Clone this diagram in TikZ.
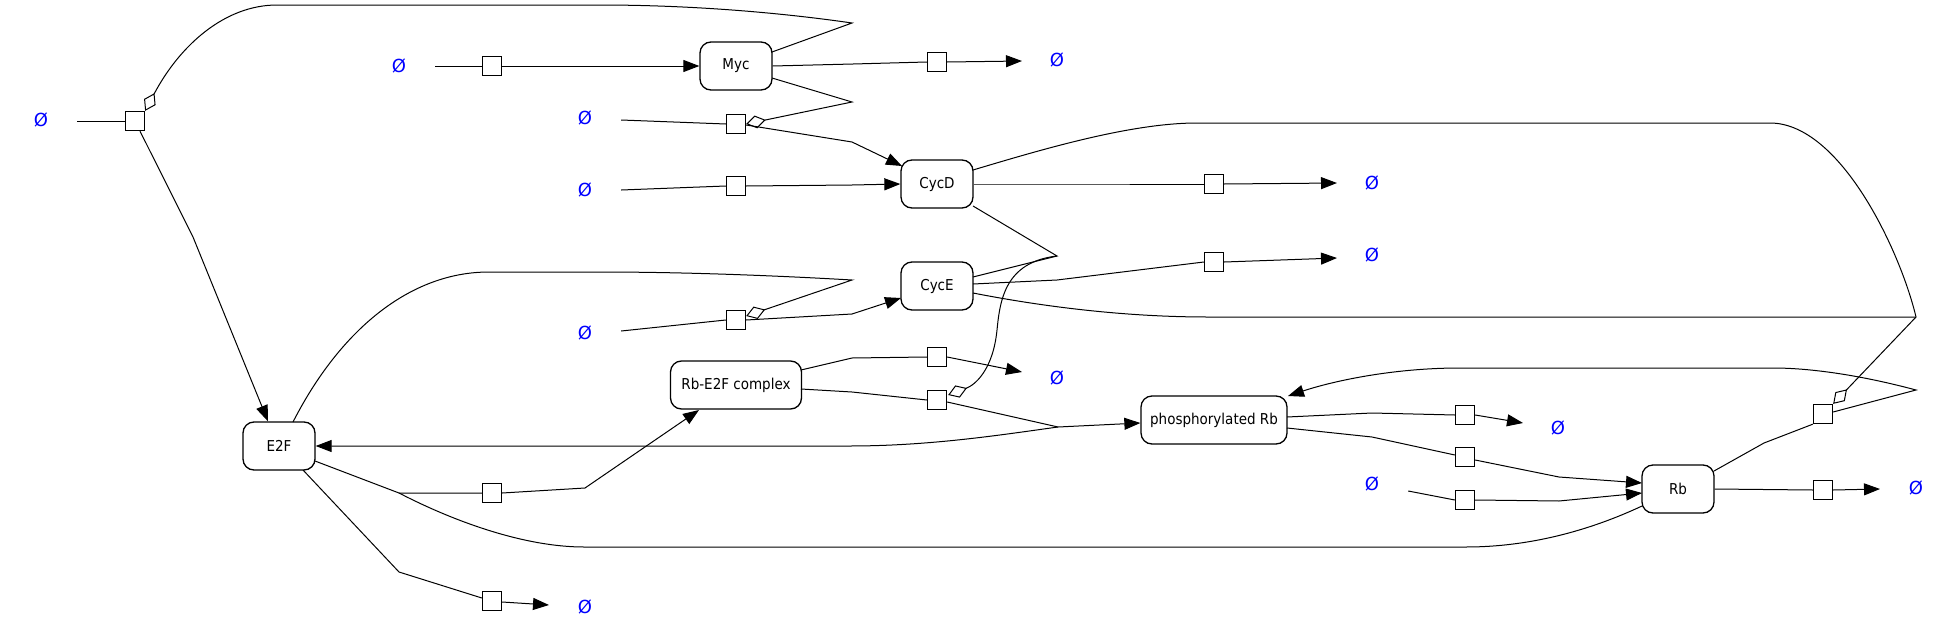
\documentclass[tikz,border=0pt]{standalone}
\usepackage{fontspec}
\newfontfamily\lblfont[FakeStretch=0.9]{DejaVu Sans}
\newfontfamily\sinkfont{DejaVu Sans}
\usetikzlibrary{arrows.meta,calc}
\begin{document}
\begin{tikzpicture}[x=1pt,y=-1pt,
  species/.style={draw, rounded corners=11pt, line width=1.3pt, minimum width=72pt, minimum height=48pt, inner sep=0pt, fill=white, font=\lblfont\fontsize{15}{18}\selectfont},
  rxn/.style={draw, line width=1.3pt, minimum size=19pt, inner sep=0pt, fill=white},
  sink/.style={text=blue, font=\sinkfont\fontsize{18}{21}\selectfont, minimum width=72pt, inner sep=0pt},
  con/.style={line width=1pt},
  prod/.style={con, -{Triangle[length=16pt,width=12pt]}},
  modi/.style={con, -{Diamond[open,length=20pt,width=13pt]}}]
\useasboundingbox (0,0) rectangle (1957,637);
% species
\node[species] (E2F) at (279,446) {E2F};
\node[species] (Myc) at (736,66) {Myc};
\node[species] (CycD) at (937,184) {CycD};
\node[species] (CycE) at (937,286) {CycE};
\node[species, minimum width=131pt] (RbE2F) at (736,385) {Rb-E2F complex};
\node[species, minimum width=146pt] (pRb) at (1214,420) {phosphorylated Rb};
\node[species] (Rb) at (1678,489) {Rb};
% sinks / sources
\node[sink] (e1) at (41,120) {Ø};
\node[sink] (e2) at (399,66) {Ø};
\node[sink] (e3) at (585,118) {Ø};
\node[sink] (e4) at (585,190) {Ø};
\node[sink] (e5) at (1057,60) {Ø};
\node[sink] (e6) at (1372,183) {Ø};
\node[sink] (e7) at (1372,255) {Ø};
\node[sink] (e8) at (585,333) {Ø};
\node[sink] (e9) at (585,607) {Ø};
\node[sink] (e10) at (1057,378) {Ø};
\node[sink] (e11) at (1558,428) {Ø};
\node[sink] (e12) at (1372,484) {Ø};
\node[sink] (e13) at (1916,488) {Ø};
% reactions
\node[rxn] (R1) at (135,121) {};
\node[rxn] (R2) at (492,66) {};
\node[rxn] (R3) at (937,62) {};
\node[rxn] (R4) at (736,124) {};
\node[rxn] (R5) at (736,186) {};
\node[rxn] (R6) at (1214,184) {};
\node[rxn] (R7) at (1214,262) {};
\node[rxn] (R8) at (736,320) {};
\node[rxn] (R9) at (937,357) {};
\node[rxn] (R10) at (937,400) {};
\node[rxn] (R11) at (492,493) {};
\node[rxn] (R12) at (492,601) {};
\node[rxn] (R13) at (1465,415) {};
\node[rxn] (R14) at (1465,457) {};
\node[rxn] (R15) at (1465,500) {};
\node[rxn] (R16) at (1823,414) {};
\node[rxn] (R17) at (1823,490) {};
% R1: source -> E2F, modifier Myc
\draw[con] ($(e1.east)+(0,1)$) -- (R1.west);
\draw[prod] ($(R1.south)+(5,0)$) -- (193,237) -- ($(E2F.north)+(-11,0)$);
\draw[modi] ($(Myc)+(36,-14)$) -- (852,23) .. controls (790,14) and (700,5) .. (599,5) -- (277,5) .. controls (225,5) and (180,45) .. (R1.north east);
% R2: source -> Myc
\draw[con] (e2.east) -- (R2.west);
\draw[prod] (R2.east) -- (Myc.west);
% R3: Myc degradation
\draw[con] (Myc.east) -- (853,64) -- (R3.west);
\draw[prod] (R3.east) -- ($(e5)+(-35,1)$);
% R4: source -> CycD, modifier Myc
\draw[con] ($(e3.east)+(0,2)$) -- (R4.west);
\draw[prod] ($(R4.east)+(0,1)$) -- (852,142) -- ($(CycD)+(-35,-18)$);
\draw[modi] ($(Myc)+(36,12)$) -- (852,102) -- (R4.east);
% R5: source -> CycD
\draw[con] (e4.east) -- (R5.west);
\draw[prod] (R5.east) -- (852,185) -- (CycD.west);
% R6: CycD degradation
\draw[con] (CycD.east) -- (1057,184) -- (R6.west);
\draw[prod] (R6.east) -- ($(e6)+(-35,0)$);
% R7: CycE degradation
\draw[con] ($(CycE)+(36,-2)$) -- (1057,280) -- (R7.west);
\draw[prod] (R7.east) -- ($(e7)+(-35,3)$);
% R8: source -> CycE, modifier E2F
\draw[con] ($(e8.east)+(0,-2)$) -- (R8.west);
\draw[prod] (R8.east) -- (852,314) -- ($(CycE)+(-36,12)$);
\draw[modi] ($(E2F)+(14,-24)$) .. controls (340,330) and (410,272) .. (489,272) -- (599,272) .. controls (700,272) and (800,277) .. (852,280) -- ($(R8.east)+(0,-4)$);
% R9: Rb-E2F degradation
\draw[con] ($(RbE2F)+(65,-15)$) -- (852,358) -- (R9.west);
\draw[prod] (R9.east) -- ($(e10)+(-35,-6)$);
% R10: Rb-E2F -> pRb + E2F, modifiers CycD, CycE
\draw[con] ($(RbE2F)+(65,4)$) -- (852,392) -- (R10.west);
\draw[prod] ($(R10.east)+(0,2)$) -- (1058,427) -- ($(pRb.west)+(0,3)$);
\draw[prod] (1058,427) .. controls (1000,435) and (930,446) .. (849,446) -- (E2F.east);
\draw[modi] ($(CycD)+(36,22)$) -- (1057,256) .. controls (1005,262) and (1000,300) .. (997,330) .. controls (993,370) and (975,385) .. ($(R10.east)+(1,-5)$);
\draw[con] ($(CycE)+(36,-9)$) -- (1057,256);
% R11: E2F + Rb -> Rb-E2F complex
\draw[con] ($(E2F)+(36,15)$) -- (399,493) -- (R11.west);
\draw[con] ($(Rb)+(-36,17)$) .. controls (1580,535) and (1520,547) .. (1466,547) -- (584,547) .. controls (525,547) and (455,522) .. (399,493);
\draw[prod] (R11.east) -- (585,488) -- ($(RbE2F)+(-37,25)$);
% R12: E2F degradation
\draw[con] ($(E2F)+(24,24)$) -- (399,572) -- ($(R12.west)+(0,-3)$);
\draw[prod] ($(R12.east)+(0,1)$) -- ($(e9)+(-36,-2)$);
% R13: pRb degradation
\draw[con] ($(pRb)+(73,-3)$) -- (1372,413) -- (R13.west);
\draw[prod] (R13.east) -- ($(e11)+(-35,-5)$);
% R14: pRb -> Rb
\draw[con] ($(pRb)+(73,8)$) -- (1372,437) -- ($(R14.west)+(0,-2)$);
\draw[prod] ($(R14.east)+(0,3)$) -- (1559,477) -- ($(Rb)+(-36,-6)$);
% R15: source -> Rb
\draw[con] ($(e12.east)+(0,7)$) -- (R15.west);
\draw[prod] (R15.east) -- (1559,501) -- ($(Rb)+(-36,4)$);
% R16: Rb -> pRb, modifiers CycD, CycE
\draw[con] ($(Rb)+(36,-18)$) -- (1764,443) -- (R16.south west);
\draw[prod] ($(R16.east)+(0,-2)$) -- (1916,390) .. controls (1860,375) and (1810,368) .. (1773,368) -- (1460,368) .. controls (1390,368) and (1330,382) .. ($(pRb)+(74,-24)$);
\draw[modi] ($(CycD)+(36,-14)$) .. controls (1040,150) and (1130,123) .. (1197,123) -- (1770,123) .. controls (1840,123) and (1900,250) .. (1916,317) -- (R16.north east);
\draw[con] ($(CycE)+(36,7)$) .. controls (1060,310) and (1140,317) .. (1208,317) -- (1916,317);
% R17: Rb degradation
\draw[con] (Rb.east) -- (R17.west);
\draw[prod] (R17.east) -- ($(e13)+(-36,1)$);
\end{tikzpicture}
\end{document}
